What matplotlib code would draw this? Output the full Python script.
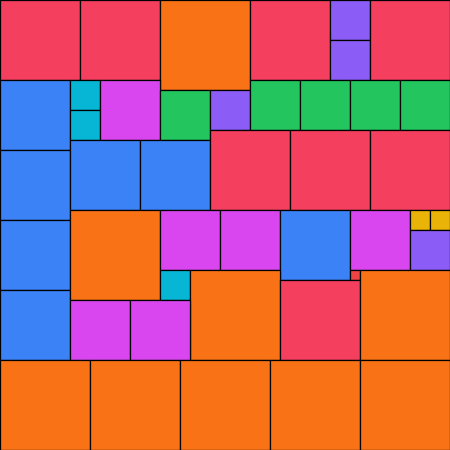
import matplotlib
matplotlib.use('Agg')
import matplotlib.pyplot as plt
from matplotlib.patches import Rectangle

# squares: left, top, side (pixel units, y grows downward)
xs = [0, 80, 160, 250, 330, 330, 370,
      0, 0, 0, 0, 70, 70, 100, 160, 210, 250, 300, 350, 400,
      70, 140, 210, 290, 370,
      70, 160, 220, 280, 350, 410, 430, 410, 350,
      160, 190, 280, 360, 70, 130,
      0, 90, 180, 270, 360]
ys = [0, 0, 0, 0, 0, 40, 0,
      80, 150, 220, 290, 80, 110, 80, 90, 90, 80, 80, 80, 80,
      140, 140, 130, 130, 130,
      210, 210, 210, 210, 210, 210, 210, 230, 270,
      270, 270, 280, 270, 300, 300,
      360, 360, 360, 360, 360]
sizes = [80, 80, 90, 80, 40, 40, 80,
         70, 70, 70, 70, 30, 30, 60, 50, 40, 50, 50, 50, 50,
         70, 70, 80, 80, 80,
         90, 60, 60, 70, 60, 20, 20, 40, 10,
         30, 90, 80, 90, 60, 60,
         90, 90, 90, 90, 90]

size_colors = {90: '#F97316', 80: '#F43F5E', 70: '#3B82F6', 60: '#D946EF',
               50: '#22C55E', 40: '#8B5CF6', 30: '#06B6D4', 20: '#EAB308',
               10: '#EF4444'}

fig = plt.figure(figsize=(4.5, 4.5), dpi=100)
ax = fig.add_axes([0, 0, 1, 1])
for x, y, s in zip(xs, ys, sizes):
    ax.add_patch(Rectangle((x, y), s, s, facecolor=size_colors[s],
                           edgecolor='black', linewidth=0.9))
ax.set_xlim(0, 450)
ax.set_ylim(450, 0)
ax.axis('off')
fig.savefig('out.png', dpi=100)
